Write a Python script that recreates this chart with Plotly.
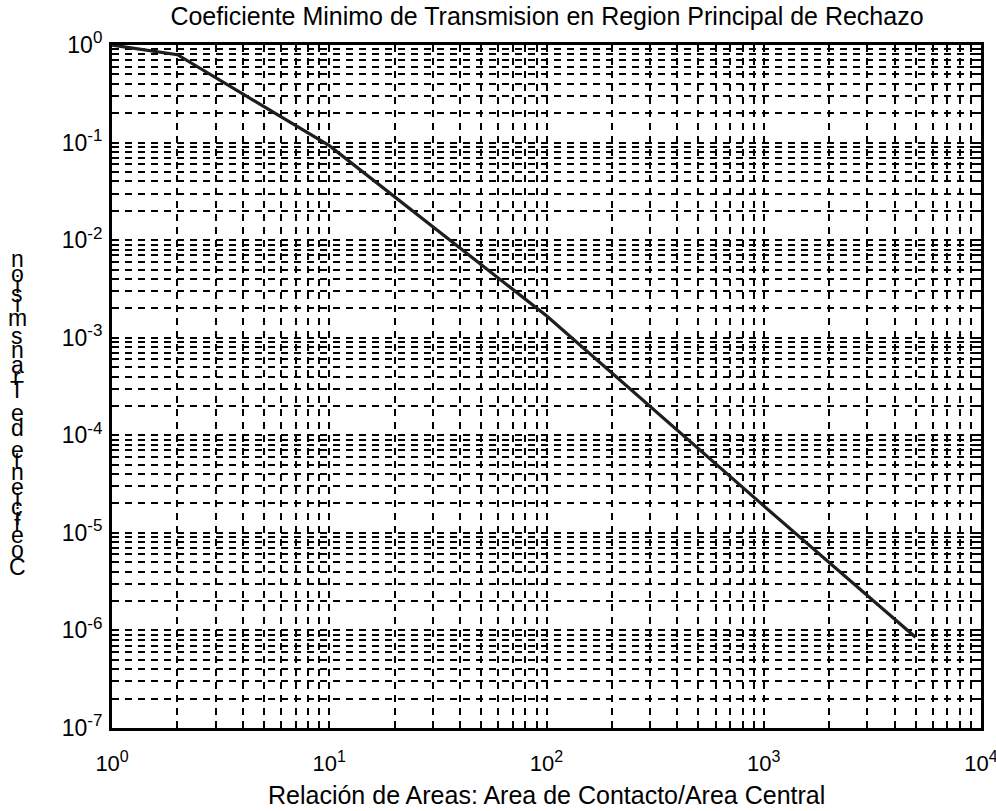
import plotly.graph_objects as go

# Area ratio (contact area / central area) and minimum transmission coefficient
area_ratio = [1, 2, 10, 100, 1000, 5000]
min_transmission = [1.0, 0.795, 0.093, 1.68e-3, 1.89e-5, 8.5e-7]

x_tick_vals = [1, 10, 100, 1000, 10000]
x_tick_exp = ["0", "1", "2", "3", "4"]
y_tick_vals = [1e-7, 1e-6, 1e-5, 1e-4, 1e-3, 1e-2, 1e-1, 1]
y_tick_exp = ["-7", "-6", "-5", "-4", "-3", "-2", "-1", "0"]

title_text = "Coeficiente Minimo de Transmision en Region Principal de Rechazo"
x_label = "Relación de Areas: Area de Contacto/Area Central"
y_label = "Coeficiente de Transmision"

FONT = "Liberation Sans, Arial, sans-serif"
W, H = 996, 811
M_L, M_R, M_T, M_B = 112, 15, 45, 83
PLOT_W = W - M_L - M_R
PLOT_H = H - M_T - M_B


def power_label(exp, size):
    return "10<sup><span style='font-size:%dpx'>%s</span></sup>" % (size, exp)


# minor ticks at 2..9 within each decade
x_minor = [m * 10.0 ** k for k in range(0, 4) for m in range(2, 10)]
y_minor = [m * 10.0 ** k for k in range(-7, 0) for m in range(2, 10)]

grid_style = dict(showgrid=True, gridcolor="black", gridwidth=2, griddash="7px,6px")
tick_style = dict(ticks="inside", tickcolor="black", tickwidth=2)

fig = go.Figure()
fig.add_trace(go.Scatter(
    x=area_ratio, y=min_transmission, mode="lines",
    line=dict(color="#1e1e1e", width=3.2), showlegend=False,
))

axis_common = dict(
    type="log", tickmode="array", showline=True, linecolor="black", linewidth=3,
    mirror="allticks", zeroline=False, ticklen=7, ticklabeloverflow="allow",
    automargin=False,
    **grid_style, **tick_style,
)

fig.update_xaxes(
    range=[-0.0003, 4.0003], tickvals=x_tick_vals,
    ticktext=[power_label(e, 16) for e in x_tick_exp],
    tickfont=dict(family=FONT, size=22, color="black"), ticklabelstandoff=14,
    minor=dict(tickmode="array", tickvals=x_minor, ticklen=4, **grid_style, **tick_style),
    **axis_common,
)
fig.update_yaxes(
    range=[-7.0003, 0.0003], tickvals=y_tick_vals,
    ticktext=[power_label(e, 17) for e in y_tick_exp],
    tickfont=dict(family=FONT, size=23, color="black"), ticklabelstandoff=2,
    minor=dict(tickmode="array", tickvals=y_minor, ticklen=4, **grid_style, **tick_style),
    **axis_common,
)

annotations = []

# x-axis label
annotations.append(dict(
    text=x_label, xref="paper", yref="paper", x=0.5, y=((H - M_B) - 795) / PLOT_H,
    showarrow=False, xanchor="center", yanchor="middle",
    font=dict(family=FONT, size=25, color="black"),
))

# y-axis label: upright glyphs stacked bottom-to-top along the axis
advance = {"C": .722, "o": .556, "e": .556, "f": .278, "i": .222, "c": .5, "n": .556,
           "t": .278, " ": .278, "d": .556, "T": .611, "r": .333, "a": .556, "s": .5,
           "m": .833}
em_step = 26.8
base_px = 567
label_x = (17 - M_L) / PLOT_W
offset = 0.0
prev_w = None
for ch in y_label:
    w = advance[ch]
    if prev_w is not None:
        offset += (prev_w / 2 + w / 2) * em_step
    prev_w = w
    if ch == " ":
        continue
    annotations.append(dict(
        text=ch, xref="paper", yref="paper", x=label_x,
        y=((H - M_B) - base_px) / PLOT_H, yshift=offset,
        showarrow=False, xanchor="center", yanchor="middle",
        font=dict(family=FONT, size=23, color="black"),
    ))

fig.update_layout(
    width=W, height=H,
    margin=dict(l=M_L, r=M_R, t=M_T, b=M_B),
    paper_bgcolor="white", plot_bgcolor="white",
    title=dict(text=title_text, x=547 / W, xanchor="center", y=1 - 16 / H, yanchor="middle",
               font=dict(family=FONT, size=25, color="black")),
    annotations=annotations,
)

fig.write_html("out.html")
